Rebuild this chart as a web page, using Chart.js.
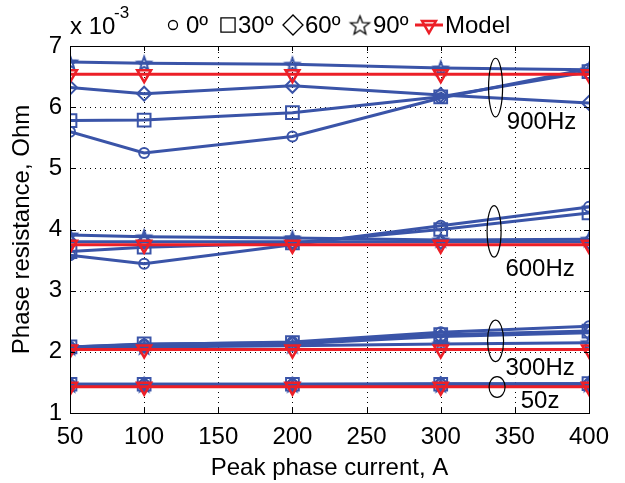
<!DOCTYPE html>
<html><head><meta charset="utf-8">
<script src="https://cdn.jsdelivr.net/npm/chart.js@4/dist/chart.umd.min.js"></script>
<style>html,body{margin:0;padding:0;background:#fff;overflow:hidden}</style>
</head><body>
<canvas id="c" width="625" height="483"></canvas>
<script>
// ---------- data ----------
const currents = [50, 100, 200, 300, 400];
const xTicks = [50, 100, 150, 200, 250, 300, 350, 400];
const yTicks = [1, 2, 3, 4, 5, 6, 7];
const seriesNames = ['0º', '30º', '60º', '90º', 'Model'];
const freqLabels = ['900Hz', '600Hz', '300Hz', '50z'];
const xTitle = 'Peak phase current, A';
const yTitle = 'Phase resistance, Ohm';

const r900_0     = [5.60, 5.25, 5.52, 6.15, 6.63];
const r900_30    = [5.78, 5.79, 5.91, 6.17, 6.58];
const r900_60    = [6.32, 6.22, 6.35, 6.20, 6.07];
const r900_90    = [6.74, 6.72, 6.70, 6.64, 6.61];
const r900_model = [6.54, 6.54, 6.54, 6.54, 6.54];

const r600_0     = [3.58, 3.44, 3.75, 4.06, 4.37];
const r600_30    = [3.64, 3.71, 3.78, 4.00, 4.27];
const r600_60    = [3.80, 3.80, 3.80, 3.80, 3.80];
const r600_90    = [3.91, 3.88, 3.86, 3.83, 3.84];
const r600_model = [3.75, 3.75, 3.75, 3.75, 3.75];

const r300_0     = [2.08, 2.12, 2.16, 2.32, 2.42];
const r300_30    = [2.08, 2.13, 2.15, 2.28, 2.34];
const r300_60    = [2.07, 2.10, 2.13, 2.25, 2.31];
const r300_90    = [2.07, 2.08, 2.10, 2.13, 2.15];
const r300_model = [2.04, 2.04, 2.04, 2.04, 2.04];

const r50_0      = [1.47, 1.47, 1.47, 1.48, 1.48];
const r50_30     = [1.47, 1.47, 1.47, 1.47, 1.48];
const r50_60     = [1.46, 1.46, 1.46, 1.47, 1.47];
const r50_90     = [1.46, 1.46, 1.46, 1.46, 1.47];
const r50_model  = [1.43, 1.43, 1.43, 1.43, 1.43];

const groups = [
  [r900_0, r900_30, r900_60, r900_90, r900_model],
  [r600_0, r600_30, r600_60, r600_90, r600_model],
  [r300_0, r300_30, r300_60, r300_90, r300_model],
  [r50_0,  r50_30,  r50_60,  r50_90,  r50_model]
];

// ---------- styles ----------
const FONT = "'Liberation Sans', Arial, sans-serif";
const BLUE = '#3a54a8';
const RED = '#ec1f27';

function pentagram(color, R, lw) {
  const size = Math.ceil(2 * R + 2 * lw + 2);
  const cv = document.createElement('canvas');
  cv.width = size; cv.height = size;
  const c = cv.getContext('2d');
  const cx = size / 2, cy = size / 2 + R * 0.1;
  const r = R * 0.42;
  c.beginPath();
  for (let k = 0; k < 10; k++) {
    const rad = (k % 2 === 0) ? R : r;
    const ang = -Math.PI / 2 + k * Math.PI / 5;
    const px = cx + rad * Math.cos(ang), py = cy + rad * Math.sin(ang);
    if (k === 0) c.moveTo(px, py); else c.lineTo(px, py);
  }
  c.closePath();
  c.strokeStyle = color; c.lineWidth = lw; c.lineJoin = 'miter';
  c.stroke();
  return cv;
}
const starBlue = pentagram(BLUE, 7, 2);
const starBlack = pentagram('#000', 10, 1.3);

const markerStyles = ['circle', 'rect', 'rectRot', starBlue];
const markerRadius = [5, 9, 7, 7];

const datasets = [];
groups.forEach((g, gi) => {
  g.forEach((vals, si) => {
    const pts = currents.map((x, i) => ({x: x, y: vals[i]}));
    if (si < 4) {
      datasets.push({
        label: freqLabels[gi] + ' ' + seriesNames[si],
        data: pts, borderColor: BLUE, borderWidth: 3,
        pointStyle: markerStyles[si], pointRadius: markerRadius[si],
        pointBorderColor: BLUE, pointBackgroundColor: 'rgba(0,0,0,0)',
        pointBorderWidth: 2, order: 2
      });
    } else {
      datasets.push({
        label: freqLabels[gi] + ' ' + seriesNames[si],
        data: pts, borderColor: RED, borderWidth: 3,
        pointStyle: 'triangle', pointRotation: 180, pointRadius: 8,
        pointBorderColor: RED, pointBackgroundColor: 'rgba(0,0,0,0)',
        pointBorderWidth: 2.5, order: 1
      });
    }
  });
});

// annotation positions (data coordinates)
const ellipses = [
  {x: 337, y: 6.32, dy: 0.48, rx: 7},
  {x: 336, y: 3.97, dy: 0.42, rx: 7},
  {x: 337, y: 2.18, dy: 0.34, rx: 8},
  {x: 338, y: 1.425, dy: 0.17, rx: 8}
];
const labelPos = [
  {x: 368, y: 5.76}, {x: 367, y: 3.37}, {x: 367, y: 1.74}, {x: 367, y: 1.20}
];

const deco = {
  id: 'deco',
  beforeDatasetsDraw(chart) {
    const ctx = chart.ctx, a = chart.chartArea, xs = chart.scales.x, ys = chart.scales.y;
    ctx.save();
    ctx.strokeStyle = '#000'; ctx.lineWidth = 1; ctx.setLineDash([1, 4]);
    ctx.beginPath();
    xTicks.forEach(v => {
      const px = Math.round(xs.getPixelForValue(v)) + 0.5;
      ctx.moveTo(px, a.bottom); ctx.lineTo(px, a.top);
    });
    yTicks.forEach(v => {
      const py = Math.round(ys.getPixelForValue(v)) + 0.5;
      ctx.moveTo(a.left, py); ctx.lineTo(a.right, py);
    });
    ctx.stroke();
    ctx.restore();
  },
  afterDatasetsDraw(chart) {
    const ctx = chart.ctx, xs = chart.scales.x, ys = chart.scales.y;
    ctx.save();
    ctx.strokeStyle = '#000'; ctx.lineWidth = 1.2;
    ellipses.forEach(e => {
      const cx = xs.getPixelForValue(e.x), cy = ys.getPixelForValue(e.y);
      const ry = Math.abs(ys.getPixelForValue(e.y + e.dy) - cy);
      ctx.beginPath(); ctx.ellipse(cx, cy, e.rx, ry, 0, 0, Math.PI * 2); ctx.stroke();
    });
    ctx.font = '24px ' + FONT; ctx.textAlign = 'center'; ctx.textBaseline = 'middle';
    freqLabels.forEach((t, i) => {
      const p = labelPos[i];
      const cx = xs.getPixelForValue(p.x), cy = ys.getPixelForValue(p.y);
      const w = ctx.measureText(t).width;
      ctx.fillStyle = '#fff';
      ctx.fillRect(cx - w / 2 - 1, cy - 10, w + 2, 20);
      ctx.fillStyle = '#000';
      ctx.fillText(t, cx, cy + 1);
    });
    ctx.restore();
  },
  afterDraw(chart) {
    const ctx = chart.ctx, a = chart.chartArea, xs = chart.scales.x, ys = chart.scales.y;
    ctx.save();
    ctx.strokeStyle = '#000'; ctx.lineWidth = 1;
    ctx.strokeRect(Math.round(a.left) + 0.5, Math.round(a.top) + 0.5, Math.round(a.right - a.left), Math.round(a.bottom - a.top));
    ctx.beginPath();
    xTicks.forEach(v => {
      const px = Math.round(xs.getPixelForValue(v)) + 0.5;
      ctx.moveTo(px, a.bottom); ctx.lineTo(px, a.bottom - 5);
      ctx.moveTo(px, a.top); ctx.lineTo(px, a.top + 5);
    });
    yTicks.forEach(v => {
      const py = Math.round(ys.getPixelForValue(v)) + 0.5;
      ctx.moveTo(a.left, py); ctx.lineTo(a.left + 5, py);
      ctx.moveTo(a.right, py); ctx.lineTo(a.right - 5, py);
    });
    ctx.stroke();

    // exponent label
    ctx.fillStyle = '#000'; ctx.textBaseline = 'middle'; ctx.textAlign = 'left';
    ctx.font = '24px ' + FONT;
    ctx.fillText('x 10', 70, 27);
    ctx.font = '17px ' + FONT;
    ctx.fillText('-3', 114, 13);

    // legend
    const H = Chart.helpers;
    const ly = 25;
    const mk = [
      {style: 'circle', r: 4.5, x: 173, c: '#000', tx: 186},
      {style: 'rect', r: 10, x: 228, c: '#000', tx: 238},
      {style: 'rectRot', r: 10, x: 293, c: '#000', tx: 305},
      {style: starBlack, r: 10, x: 360, c: '#000', tx: 373},
      {style: 'triangle', r: 8, x: 429, c: RED, tx: 445}
    ];
    mk.forEach((m, i) => {
      if (i === 4) {
        ctx.strokeStyle = RED; ctx.lineWidth = 3;
        ctx.beginPath(); ctx.moveTo(415, ly); ctx.lineTo(443, ly); ctx.stroke();
      }
      ctx.strokeStyle = m.c; ctx.fillStyle = 'rgba(0,0,0,0)';
      ctx.lineWidth = i === 4 ? 2.5 : 1.3;
      H.drawPoint(ctx, {pointStyle: m.style, radius: m.r, borderWidth: ctx.lineWidth,
        rotation: i === 4 ? 180 : 0}, m.x, ly);
      ctx.fillStyle = '#000'; ctx.font = '24px ' + FONT;
      ctx.fillText(seriesNames[i], m.tx, ly + 1);
    });
    ctx.restore();
  }
};

new Chart(document.getElementById('c'), {
  type: 'line',
  data: {datasets: datasets},
  plugins: [deco],
  options: {
    responsive: false, animation: false, devicePixelRatio: 1,
    layout: {padding: {left: 0, right: 36, top: 46, bottom: 0}},
    plugins: {legend: {display: false}, tooltip: {enabled: false}},
    elements: {line: {tension: 0}},
    scales: {
      x: {
        type: 'linear', min: 50, max: 400,
        afterFit(s) { s.height = 70; },
        afterBuildTicks(s) { s.ticks = xTicks.map(v => ({value: v})); },
        ticks: {color: '#000', font: {family: FONT, size: 24}, padding: 10, maxRotation: 0},
        grid: {display: false, drawTicks: false},
        border: {display: false},
        title: {display: true, text: xTitle, color: '#000', font: {family: FONT, size: 24}, padding: {top: 4, bottom: 0}}
      },
      y: {
        type: 'linear', min: 1, max: 7,
        afterFit(s) { s.width = 70; },
        afterBuildTicks(s) { s.ticks = yTicks.map(v => ({value: v})); },
        ticks: {color: '#000', font: {family: FONT, size: 24}, padding: 8},
        grid: {display: false, drawTicks: false},
        border: {display: false},
        title: {display: true, text: yTitle, color: '#000', font: {family: FONT, size: 24}, padding: {top: 8, bottom: 0}}
      }
    }
  }
});
</script>
</body></html>
